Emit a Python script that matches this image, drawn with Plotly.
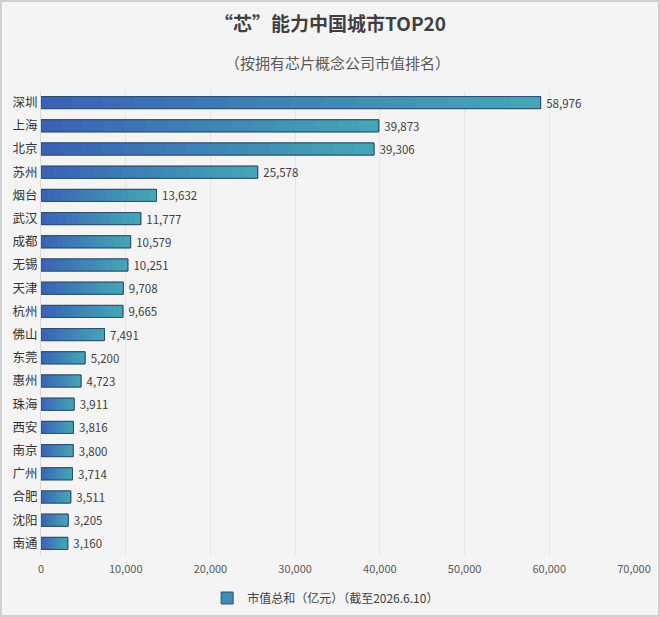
import plotly.graph_objects as go

COLOR_BG = '#f4f4f4'

cities = ['深圳', '上海', '北京', '苏州', '烟台', '武汉', '成都', '无锡', '天津', '杭州',
          '佛山', '东莞', '惠州', '珠海', '西安', '南京', '广州', '合肥', '沈阳', '南通']
values = [58976, 39873, 39306, 25578, 13632, 11777, 10579, 10251, 9708, 9665,
          7491, 5200, 4723, 3911, 3816, 3800, 3714, 3511, 3205, 3160]
x_ticks = [0, 10000, 20000, 30000, 40000, 50000, 60000, 70000]
x_tick_labels = ['0', '10,000', '20,000', '30,000', '40,000', '50,000', '60,000', '70,000']

legend_name = '市值总和（亿元）（截至2026.6.10）'

# gradient end colours (left -> right of each bar)
C_LEFT = (58, 98, 182)
C_RIGHT = (68, 166, 181)
N_SEG = 16
FONT = 'Noto Sans CJK SC'

fig = go.Figure()

# full bar: gives the legend entry and the base colour
fig.add_trace(go.Bar(
    y=cities, x=values, orientation='h', name=legend_name,
    marker=dict(color='#3f8bb3', line=dict(color='#2c4f72', width=1)),
    width=0.52, hoverinfo='skip',
))

# gradient: each bar split into N_SEG pieces along its own length
for i in range(N_SEG):
    t = i / (N_SEG - 1)
    r, g, b = (round(C_LEFT[k] + (C_RIGHT[k] - C_LEFT[k]) * t) for k in range(3))
    fig.add_trace(go.Bar(
        y=cities, x=[v / N_SEG for v in values], base=[v * i / N_SEG for v in values],
        orientation='h', width=0.52, showlegend=False, hoverinfo='skip',
        marker=dict(color=f'rgb({r},{g},{b})', line=dict(width=0)),
    ))

# outline + value labels
fig.add_trace(go.Bar(
    y=cities, x=values, orientation='h', width=0.52, showlegend=False,
    marker=dict(color='rgba(0,0,0,0)', line=dict(color='#2c4f72', width=1)),
    text=[f' {v:,}' for v in values], textposition='outside', cliponaxis=False,
    constraintext='none',
    textfont=dict(family=FONT, size=11.5, color='#404040'),
    hovertemplate='%{y}: %{x:,}<extra></extra>',
))

fig.update_layout(
    width=660, height=617,
    barmode='overlay',
    plot_bgcolor=COLOR_BG,
    paper_bgcolor=COLOR_BG,
    margin=dict(l=41, r=26, t=91, b=62, autoexpand=False),
    font=dict(family=FONT, color='#404040'),
    title=dict(text='<b>“芯”能力中国城市TOP20</b>', x=0.5, xanchor='center',
               y=0.96, yanchor='middle', font=dict(size=19, color='#404040')),
    xaxis=dict(range=[0, 70000], tickvals=x_ticks, ticktext=x_tick_labels,
               showgrid=True, gridcolor='#e4e4e4', gridwidth=1, zeroline=False,
               showline=False, ticks='', ticklabelstandoff=6,
               tickfont=dict(size=11, color='#595959')),
    yaxis=dict(autorange='reversed', showgrid=False, ticks='', ticklen=0,
               tickfont=dict(size=12.5, color='#333333'), showline=True,
               linecolor='#d9d9d9', linewidth=1),
    legend=dict(orientation='h', x=0.48, xanchor='center', yref='container',
                y=(617 - 598) / 617, yanchor='middle',
                font=dict(size=12, color='#404040'), bgcolor='rgba(0,0,0,0)',
                itemwidth=30),
    bargap=0.48,
    annotations=[dict(text='（按拥有芯片概念公司市值排名）', x=0.5, xref='paper',
                      y=1 + (91 - 62) / 464, yref='paper', yanchor='middle', showarrow=False,
                      font=dict(size=15, color='#595959'))],
    shapes=[dict(type='rect', xref='paper', yref='paper', x0=-40 / 593, x1=1 + 25 / 593,
                 y0=-61 / 464, y1=1 + 90 / 464, line=dict(color='#d0d0d0', width=2),
                 fillcolor='rgba(0,0,0,0)', layer='below')],
)

fig.write_html('out.html', config={'displayModeBar': False},
               post_script="document.body.style.margin='0';document.body.style.overflow='hidden';")
